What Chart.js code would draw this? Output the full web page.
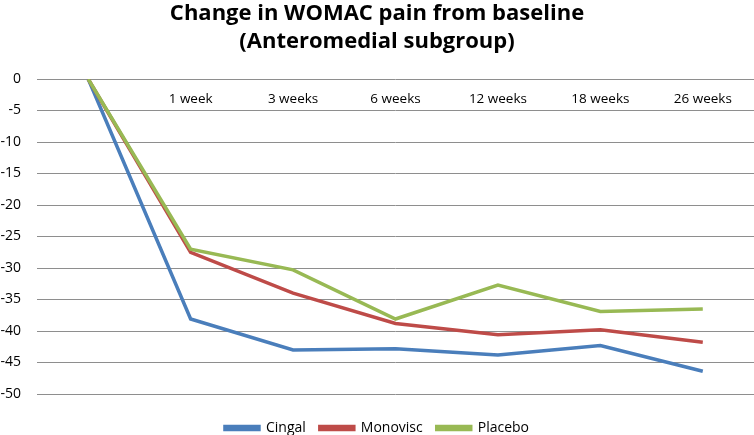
<!DOCTYPE html>
<html>
<head>
<meta charset="utf-8">
<script src="https://cdn.jsdelivr.net/npm/chart.js@4/dist/chart.umd.min.js"></script>
<style>
    html, body { margin: 0; padding: 0; background: #ffffff; }
    #wrap { width: 754px; height: 435px; position: relative; }
</style>
</head>
<body>
<div id="wrap"><canvas id="womacChart"></canvas></div>
<script>
// Category labels (first point is the baseline, no label)
const timepoints = ['', '1 week', '3 weeks', '6 weeks', '12 weeks', '18 weeks', '26 weeks'];

// Change in WOMAC pain
const cingal    = [0, -38.1, -43.0, -42.8, -43.8, -42.3, -46.4];
const monovisc  = [0, -27.5, -34.0, -38.8, -40.6, -39.8, -41.8];
const placebo   = [0, -27.0, -30.3, -38.1, -32.7, -36.9, -36.5];

const yTicks = { min: -50, max: 0, step: 5 };

const colors = {
    cingal: '#4a7ebb',
    monovisc: '#be4b48',
    placebo: '#98b954',
    grid: '#8e8e8e',
    text: '#000000'
};

const fontFamily = "'Open Sans', 'Noto Sans', sans-serif";

// later series sit on top, like the original
function lineSet(label, data, color, order) {
    return {
        label: label,
        data: data,
        order: order,
        borderColor: color,
        backgroundColor: color,
        borderWidth: 3.5,
        pointRadius: 0,
        pointHoverRadius: 0,
        tension: 0,
        fill: false
    };
}

const ctx = document.getElementById('womacChart');
new Chart(ctx, {
    type: 'line',
    data: {
        labels: timepoints,
        datasets: [
            lineSet('Cingal', cingal, colors.cingal, 3),
            lineSet('Monovisc', monovisc, colors.monovisc, 2),
            lineSet('Placebo', placebo, colors.placebo, 1)
        ]
    },
    options: {
        responsive: true,
        maintainAspectRatio: false,
        animation: false,
        layout: {
            padding: { left: 0, right: 0, top: 0, bottom: -10 }
        },
        plugins: {
            title: {
                display: true,
                text: ['Change in WOMAC pain from baseline', '(Anteromedial subgroup)'],
                color: colors.text,
                font: { family: fontFamily, size: 22, weight: 'bold', lineHeight: 1.25 },
                padding: { top: 0, bottom: 24 }
            },
            legend: {
                position: 'bottom',
                title: {
                    // empty title only used as a spacer above the items
                    display: true,
                    text: ' ',
                    font: { size: 1, lineHeight: 1 },
                    padding: { top: 12, bottom: 0 }
                },
                labels: {
                    color: colors.text,
                    font: { family: fontFamily, size: 14 },
                    boxWidth: 34,
                    boxHeight: 3,
                    padding: 14,
                    sort: (a, b) => a.datasetIndex - b.datasetIndex
                }
            },
            tooltip: { enabled: false }
        },
        scales: {
            x: {
                type: 'category',
                position: { y: 0 },
                offset: true,
                grid: { display: false, drawTicks: false },
                border: { display: false },
                ticks: {
                    color: colors.text,
                    font: { family: fontFamily, size: 13.5 },
                    padding: 12,
                    maxRotation: 0,
                    autoSkip: false
                }
            },
            y: {
                min: yTicks.min,
                max: yTicks.max,
                grid: { color: colors.grid, lineWidth: 1, drawTicks: false },
                border: { display: false },
                ticks: {
                    stepSize: yTicks.step,
                    color: colors.text,
                    font: { family: fontFamily, size: 14 },
                    padding: 16
                },
                afterFit: function(scale) {
                    scale.width = 37;
                }
            }
        }
    }
});
</script>
</body>
</html>
